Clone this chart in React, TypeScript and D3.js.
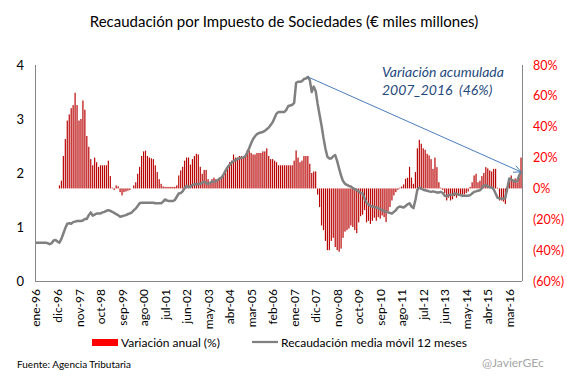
import React from "react";
import * as d3 from "d3";

const W = 567;
const H = 378;

// Recaudación media móvil 12 meses (€ miles millones), monthly from ene-96
const recaudacion: number[] = [
  0.71, 0.71, 0.71, 0.71, 0.71, 0.71, 0.70, 0.68, 0.70, 0.75, 0.76, 0.73,
  0.71, 0.78, 0.88, 0.98, 1.06, 1.07, 1.06, 1.09, 1.10, 1.11, 1.11, 1.11,
  1.12, 1.15, 1.15, 1.22, 1.27, 1.21, 1.23, 1.25, 1.25, 1.25, 1.27, 1.28,
  1.30, 1.31, 1.30, 1.28, 1.26, 1.24, 1.22, 1.19, 1.20, 1.21, 1.22, 1.24,
  1.25, 1.27, 1.31, 1.34, 1.39, 1.44, 1.45, 1.45, 1.45, 1.45, 1.45, 1.45,
  1.45, 1.44, 1.44, 1.44, 1.44, 1.47, 1.51, 1.49, 1.48, 1.48, 1.48, 1.50,
  1.56, 1.62, 1.63, 1.66, 1.72, 1.76, 1.74, 1.75, 1.78, 1.79, 1.79, 1.80,
  1.80, 1.82, 1.84, 1.82, 1.80, 1.82, 1.84, 1.84, 1.85, 1.87, 1.90, 1.92,
  1.98, 2.05, 2.11, 2.15, 2.19, 2.22, 2.24, 2.26, 2.27, 2.28, 2.29, 2.31,
  2.38, 2.46, 2.55, 2.63, 2.68, 2.72, 2.74, 2.75, 2.76, 2.78, 2.81, 2.84,
  2.89, 2.94, 3.02, 3.10, 3.13, 3.13, 3.13, 3.13, 3.17, 3.24, 3.25, 3.26,
  3.30, 3.67, 3.69, 3.69, 3.70, 3.74, 3.75, 3.78, 3.72, 3.50, 3.60, 3.52,
  3.28, 3.08, 2.88, 2.65, 2.45, 2.30, 2.27, 2.27, 2.31, 2.33, 2.22, 2.08,
  1.95, 1.85, 1.80, 1.78, 1.76, 1.75, 1.72, 1.70, 1.68, 1.66, 1.63, 1.62,
  1.52, 1.45, 1.42, 1.39, 1.38, 1.37, 1.36, 1.35, 1.33, 1.31, 1.30, 1.28,
  1.27, 1.26, 1.25, 1.28, 1.31, 1.36, 1.38, 1.37, 1.36, 1.39, 1.42, 1.44,
  1.38, 1.35, 1.50, 1.69, 1.73, 1.71, 1.69, 1.68, 1.67, 1.66, 1.65, 1.66,
  1.65, 1.64, 1.64, 1.65, 1.63, 1.58, 1.57, 1.59, 1.60, 1.59, 1.62, 1.61,
  1.60, 1.59, 1.58, 1.58, 1.58, 1.58, 1.59, 1.62, 1.65, 1.66, 1.67, 1.68,
  1.72, 1.77, 1.78, 1.75, 1.74, 1.73, 1.70, 1.62, 1.54, 1.53, 1.53, 1.52,
  1.54, 1.72, 1.90, 1.88, 1.86, 1.84, 1.85, 1.95, 2.02,
];

// Variación anual (%), monthly from ene-96 (none for the first 12 months)
const variacion: (number | null)[] = [
  null, null, null, null, null, null, null, null, null, null, null, null,
  2, 5, 21, 32, 44, 48, 52, 54, 62, 54, 44, 45,
  57, 51, 34, 27, 19, 15, 20, 17, 14, 15, 15, 15,
  15, 18, 8, 0.5, -1, 2, 1.3, -2.4, -4.5, -2.4, -2, -1.5,
  -1, 0, 2, 4, 9.5, 14, 21, 24, 24.5, 21, 20, 19.5,
  19, 15, 10.6, 6, 3, 1.3, 1, 1, 1, 1, 1, 1,
  2, 8.4, 11.7, 14, 18, 20, 20, 15.5, 19, 21, 22.5, 22,
  14, 9.5, 12, 12, 6, 4, 6, 7, 6, 6, 7, 7,
  10, 11.7, 14, 17, 18, 22, 20, 20, 21, 21, 20, 20.5,
  24.6, 24.6, 23, 22, 22, 23, 23, 23, 24, 24, 26, 21,
  19, 19, 18, 17, 15, 15, 15, 15, 15, 15, 15, 15,
  18, 24.6, 20, 17, 18, 21, 21, 21, 16, 10, 11, 11,
  -4, -12, -24, -27, -34, -40, -40, -34, -32, -38, -40, -41,
  -39, -32, -28, -27, -26, -24, -25, -27, -29, -22, -18, -17,
  -14, -22, -21, -23, -21, -19, -21, -18.6, -19.6, -17.5, -18.6, -21.8,
  -15, -12, -7.8, -4.5, -2.4, -0.9, 0.5, 1.3, 2.6, 6.3, 6.9, 14,
  7, 3, 10.6, 26, 31.5, 29, 26, 25, 22.5, 21.4, 19, 12.7,
  20, 13.8, 4, 0.5, -1, -3, -7.8, -6, -7.8, -7, -5, -6,
  -4.5, -5, -4, -4, -3, -2, 1, 4, 8.4, 9.5, 4, 5,
  8, 10, 13.8, 13, 11.7, 11, 12.7, 12.7, 0.5, -7.8, -7.8, -8.5,
  -10, -2, 6, 8.4, 5, 6.5, 4, 7, 20,
];

const monthNames = ["ene", "feb", "mar", "abr", "may", "jun", "jul", "ago", "sep", "oct", "nov", "dic"];
const categories: string[] = recaudacion.map((_, i) => {
  const y = 96 + Math.floor(i / 12);
  return `${monthNames[i % 12]}-${String(y % 100).padStart(2, "0")}`;
});

const xTickLabels = [
  "ene-96", "dic-96", "nov-97", "oct-98", "sep-99", "ago-00", "jul-01", "jun-02",
  "may-03", "abr-04", "mar-05", "feb-06", "ene-07", "dic-07", "nov-08", "oct-09",
  "sep-10", "ago-11", "jul-12", "jun-13", "may-14", "abr-15", "mar-16",
];
const leftTicks = [0, 1, 2, 3, 4];
const rightTicks = [80, 60, 40, 20, 0, -20, -40, -60];

const FONT = "Lato, 'Open Sans', sans-serif";

export default function App() {
  const left = 35, right = 522, top = 65, bottom = 281;

  const x = d3.scaleBand<string>().domain(categories).range([left, right]).padding(0);
  const yL = d3.scaleLinear().domain([0, 4]).range([bottom, top]);
  const yR = d3.scaleLinear().domain([-60, 80]).range([bottom, top]);
  const bw = x.bandwidth();
  const cx = (c: string) => (x(c) as number) + bw / 2;
  const barW = bw * 0.6;

  const line = d3
    .line<number>()
    .x((_, i) => cx(categories[i]))
    .y((d) => yL(d));

  const peakIdx = d3.maxIndex(recaudacion);
  const lastIdx = recaudacion.length - 1;
  const ax1 = cx(categories[peakIdx]);
  const ay1 = yL(recaudacion[peakIdx]);
  const ax2 = cx(categories[lastIdx]);
  const ay2 = yL(recaudacion[lastIdx]);
  const ang = Math.atan2(ay2 - ay1, ax2 - ax1);
  const ah = 8, aw = 0.45;
  const p1 = [ax2 - ah * Math.cos(ang - aw), ay2 - ah * Math.sin(ang - aw)];
  const p2 = [ax2 - ah * Math.cos(ang + aw), ay2 - ah * Math.sin(ang + aw)];

  const fmtR = (v: number) => (v < 0 ? `(${Math.abs(v)}%)` : `${v}%`);

  return (
    <svg width={W} height={H} style={{ display: "block", position: "absolute", left: 0, top: 0, background: "#fff" }} fontFamily={FONT}>
      <rect x={0} y={0} width={W} height={H} fill="#fff" />
      <text x={284} y={27} textAnchor="middle" fontSize={15} fill="#000">
        Recaudación por Impuesto de Sociedades (€ miles millones)
      </text>

      {/* bars */}
      <g>
        {variacion.map((v, i) =>
          v === null ? null : (
            <rect
              key={i}
              x={cx(categories[i]) - barW / 2}
              width={barW}
              y={Math.min(yR(v), yR(0))}
              height={Math.abs(yR(v) - yR(0))}
              fill="#B80000"
            />
          )
        )}
      </g>

      {/* line */}
      <path d={line(recaudacion) || ""} fill="none" stroke="#808080" strokeWidth={2.5} strokeLinejoin="round" />

      {/* arrow */}
      <line x1={ax1} y1={ay1} x2={ax2} y2={ay2} stroke="#4A7EBB" strokeWidth={1} />
      <polyline points={`${p1[0]},${p1[1]} ${ax2},${ay2} ${p2[0]},${p2[1]}`} fill="none" stroke="#4A7EBB" strokeWidth={1} />

      {/* axes */}
      <g stroke="#868686" strokeWidth={1} shapeRendering="crispEdges">
        <line x1={left} x2={left} y1={top} y2={bottom} />
        <line x1={right} x2={right} y1={top} y2={bottom} />
        <line x1={left} x2={right} y1={bottom} y2={bottom} />
      </g>

      {leftTicks.map((t) => (
        <text key={t} x={24} y={yL(t) + 4.5} textAnchor="end" fontSize={13} fill="#000">
          {t}
        </text>
      ))}
      {rightTicks.map((t) => (
        <text key={t} x={533} y={yR(t) + 4.5} textAnchor="start" fontSize={12.5} fill="#FF0000">
          {fmtR(t)}
        </text>
      ))}

      {xTickLabels.map((lab) => {
        const px = cx(lab);
        return (
          <text
            key={lab}
            transform={`translate(${px + 4.5},289) rotate(-90)`}
            textAnchor="end"
            fontSize={12}
            fill="#000"
          >
            {lab}
          </text>
        );
      })}

      {/* annotation */}
      <text x={382} y={77} fontSize={14} fontStyle="italic" fill="#1F497D">
        Variación acumulada
      </text>
      <text x={382} y={95} fontSize={14} fontStyle="italic" fill="#1F497D" xmlSpace="preserve">
        2007_2016  (46%)
      </text>

      {/* legend */}
      <rect x={92} y={339} width={26} height={7} fill="#FF0000" />
      <text x={121} y={347} fontSize={12} fill="#000">Variación anual (%)</text>
      <line x1={252} x2={278} y1={342} y2={342} stroke="#808080" strokeWidth={2.25} />
      <text x={281} y={347} fontSize={12} fill="#000">Recaudación media móvil 12 meses</text>

      <text x={17} y={368} fontSize={10} fill="#000">Fuente: Agencia Tributaria</text>
      <text x={482} y={367} fontSize={12} fill="#A6A6A6">@JavierGEc</text>
    </svg>
  );
}
